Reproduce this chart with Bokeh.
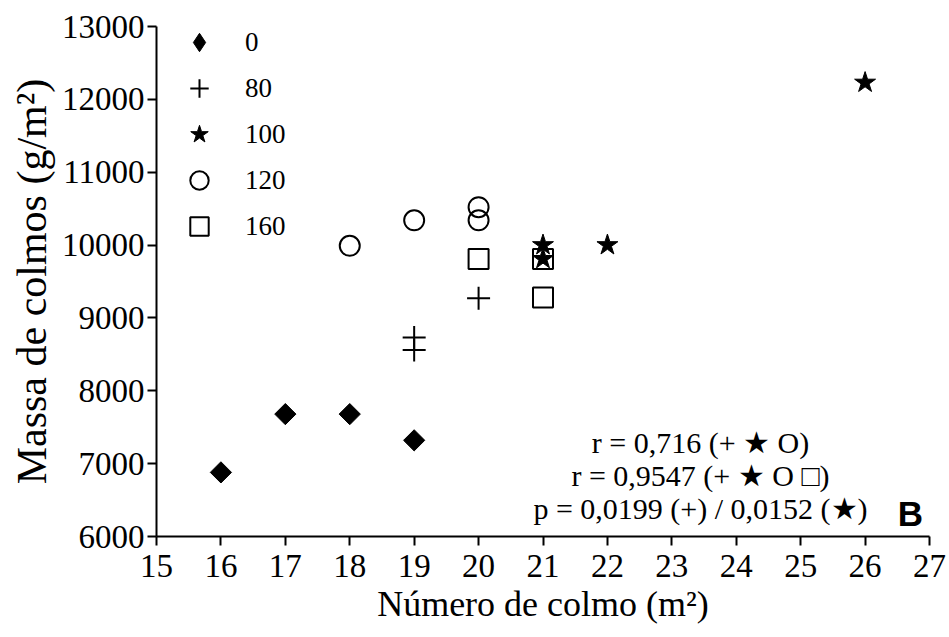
from bokeh.plotting import figure
from bokeh.models import Range1d, FixedTicker, Label, Legend, LegendItem
from bokeh.embed import file_html
from bokeh.resources import INLINE

# ---- data ----
x_n0 = [16, 17, 18, 19]
y_n0 = [6880, 7680, 7680, 7320]
x_n80 = [19, 19, 20]
y_n80 = [8730, 8560, 9270]
x_n100 = [21, 21, 22, 26]
y_n100 = [10000, 9810, 10000, 12230]
x_n120 = [18, 19, 20, 20]
y_n120 = [9990, 10340, 10520, 10340]
x_n160 = [20, 21, 21]
y_n160 = [9810, 9810, 9280]
series_labels = ["0", "80", "100", "120", "160"]
x_ticks = list(range(15, 28))
y_ticks = list(range(6000, 13001, 1000))
annotations = ["r = 0,716 (+ \u2605 O)",
               "r = 0,9547 (+ \u2605 O \u25A1)",
               "p = 0,0199 (+) / 0,0152 (\u2605)"]

SERIF = "Liberation Serif"

p = figure(width=949, height=637, output_backend="svg", toolbar_location=None,
           x_range=Range1d(15, 27), y_range=Range1d(6000, 13000),
           min_border_left=156, min_border_right=20, min_border_top=26, min_border_bottom=101)
p.outline_line_color = None
p.xgrid.grid_line_color = None
p.ygrid.grid_line_color = None
p.background_fill_color = "white"
p.border_fill_color = "white"

for ax in (p.xaxis[0], p.yaxis[0]):
    ax.axis_line_width = 2
    ax.major_tick_line_width = 2
    ax.major_tick_out = 9
    ax.major_tick_in = 0
    ax.minor_tick_out = 0
    ax.minor_tick_in = 0
    ax.major_label_text_font = SERIF
    ax.major_label_text_font_size = "33px"
    ax.major_label_text_color = "black"
    ax.axis_label_text_font = SERIF
    ax.axis_label_text_font_style = "normal"
    ax.axis_label_text_color = "black"

p.xaxis.ticker = FixedTicker(ticks=x_ticks)
p.yaxis.ticker = FixedTicker(ticks=y_ticks)
p.xaxis.axis_label = "Número de colmo (m²)"
p.yaxis.axis_label = "Massa de colmos (g/m²)"
p.xaxis.axis_label_text_font_size = "36px"
p.yaxis.axis_label_text_font_size = "42px"
p.xaxis.major_label_standoff = 9
p.yaxis.major_label_standoff = 3
p.xaxis.axis_label_standoff = 4
p.yaxis.axis_label_standoff = 4

# legend-only diamond, hidden beneath the rotated squares
r0_leg = p.scatter(x_n0, y_n0, marker="diamond", size=18,
                   fill_color="black", line_color="black")
r0 = p.scatter(x_n0, y_n0, marker="square", size=15, angle=0.785398,
               fill_color="black", line_color="black")
r80 = p.scatter(x_n80, y_n80, marker="cross", size=23, line_color="black", line_width=2)
r120 = p.scatter(x_n120, y_n120, marker="circle", size=20, fill_color=None,
                 line_color="black", line_width=2)
r160 = p.scatter(x_n160, y_n160, marker="square", size=20, fill_color=None,
                 line_color="black", line_width=2)
r100 = p.scatter(x_n100, y_n100, marker="star", size=22, fill_color="black",
                 line_color="black")

legend = Legend(items=[LegendItem(label=l, renderers=[r]) for l, r in
                       zip(series_labels, [r0_leg, r80, r100, r120, r160])],
                location=(18, 287))
legend.border_line_color = None
legend.background_fill_alpha = 0
legend.label_text_font = SERIF
legend.label_text_font_size = "27px"
legend.label_text_color = "black"
legend.glyph_width = 50
legend.glyph_height = 46
legend.spacing = 0
legend.label_standoff = 21
legend.padding = 0
legend.margin = 0
p.add_layout(legend)

ann_y = [94, 61, 28]
for t, yy in zip(annotations, ann_y):
    p.add_layout(Label(x=544, y=yy, x_units="screen", y_units="screen",
                       text=t, text_align="center", text_baseline="middle",
                       text_font=SERIF, text_font_size="30px", text_color="black"))
p.add_layout(Label(x=754, y=23, x_units="screen", y_units="screen", text="B",
                   text_align="center", text_baseline="middle",
                   text_font="Liberation Sans", text_font_style="bold",
                   text_font_size="35px", text_color="black"))

open("out.html", "w").write(file_html(p, INLINE))
